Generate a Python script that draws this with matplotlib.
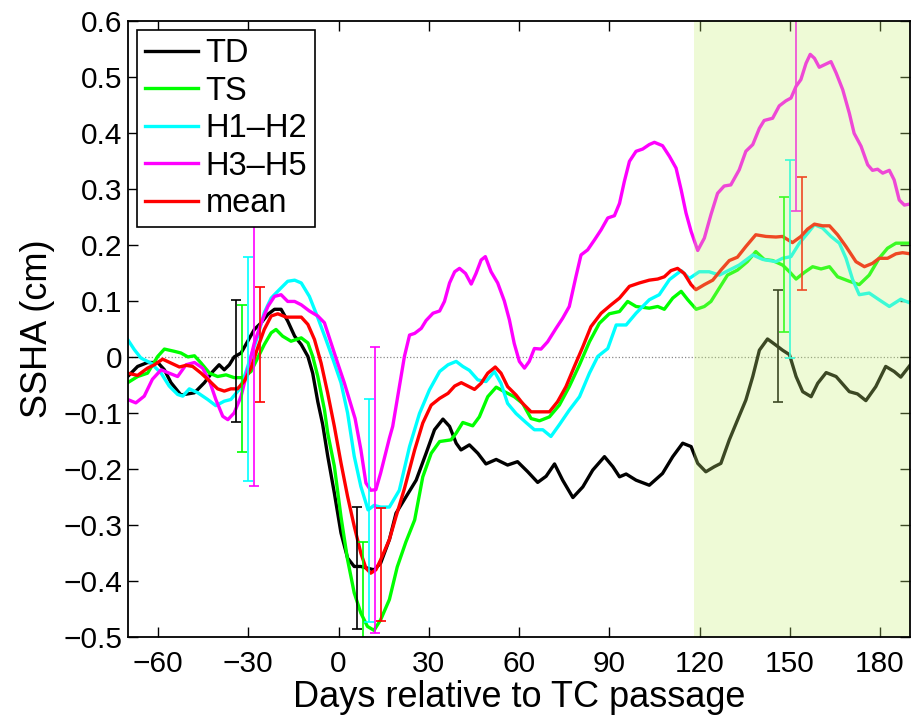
#!/usr/bin/env python3

import matplotlib
matplotlib.use("Agg")
import matplotlib.pyplot as plt

plt.rcParams['font.family'] = ['Liberation Sans', 'DejaVu Sans']

# composite SSHA curves (day, cm)
td_days = [-70.1, -66.8, -63.5, -60.1, -57.9, -55.7, -52.4, -47.9, -44.6, -41.8, -39.7, -38.0, -36.3, -34.7,
           -32.4, -30.2, -28.0, -25.7, -23.5, -21.3, -19.1, -16.9, -14.6, -12.4, -10.2, -8.6, -6.9, -5.3,
           -3.6, -1.4, 0.8, 3.0, 5.2, 7.4, 9.6, 11.8, 14.0, 16.9, 19.1, 22.5, 25.8, 29.1, 31.9, 34.7, 36.9,
           39.1, 40.7, 43.5, 46.3, 49.0, 52.4, 56.2, 59.5, 62.9, 66.2, 69.0, 71.8, 74.5, 77.9, 81.2, 84.5,
           88.4, 91.2, 93.4, 95.6, 98.9, 103.3, 107.7, 111.1, 114.4, 117.2, 119.4, 122.1, 124.9, 127.1,
           129.9, 132.6, 135.4, 137.7, 139.9, 142.6, 145.4, 147.6, 149.9, 152.1, 154.3, 157.1, 159.3,
           162.1, 165.4, 169.8, 172.5, 175.3, 178.6, 181.9, 184.7, 186.9, 190.1]
td_vals = [-0.035, -0.017, -0.010, -0.010, -0.023, -0.046, -0.068, -0.064, -0.046, -0.026, -0.014, -0.023,
           -0.014, 0.000, 0.007, 0.028, 0.049, 0.061, 0.076, 0.085, 0.085, 0.064, 0.037, 0.022, 0.001,
           -0.029, -0.080, -0.120, -0.177, -0.243, -0.314, -0.359, -0.374, -0.374, -0.377, -0.380, -0.368,
           -0.326, -0.279, -0.249, -0.220, -0.172, -0.130, -0.111, -0.124, -0.154, -0.166, -0.157, -0.172,
           -0.191, -0.183, -0.193, -0.187, -0.205, -0.224, -0.213, -0.191, -0.220, -0.251, -0.232, -0.202,
           -0.178, -0.196, -0.214, -0.209, -0.220, -0.229, -0.208, -0.178, -0.154, -0.160, -0.190, -0.205,
           -0.196, -0.190, -0.148, -0.113, -0.077, -0.035, 0.012, 0.032, 0.021, 0.012, 0.004, -0.035,
           -0.062, -0.071, -0.047, -0.028, -0.035, -0.062, -0.066, -0.078, -0.053, -0.017, -0.026, -0.036,
           -0.014]

ts_days = [-70.1, -66.8, -63.5, -60.1, -57.9, -54.6, -52.4, -50.1, -47.9, -45.7, -42.9, -40.2, -37.4, -34.7,
           -31.9, -29.1, -26.9, -24.7, -22.4, -20.8, -18.6, -15.8, -12.4, -10.2, -8.6, -6.9, -4.7, -3.6,
           -1.4, 0.8, 3.0, 5.2, 7.4, 9.6, 11.8, 14.0, 16.9, 19.5, 22.4, 25.3, 28.0, 30.8, 33.6, 37.4, 39.1,
           41.3, 44.6, 46.8, 49.6, 52.4, 55.1, 58.4, 61.2, 64.0, 66.8, 70.1, 73.4, 76.7, 80.1, 83.4, 86.7,
           90.0, 93.4, 96.1, 98.9, 103.3, 106.1, 108.3, 111.1, 113.9, 116.1, 118.9, 121.6, 123.8, 126.6,
           129.3, 132.6, 135.9, 138.7, 141.5, 144.3, 147.6, 149.9, 152.1, 154.9, 157.6, 160.4, 163.2,
           165.9, 169.8, 173.1, 176.4, 179.7, 182.5, 185.3, 190.1]
ts_vals = [-0.046, -0.035, -0.029, 0.001, 0.014, 0.010, 0.007, 0.000, 0.002, -0.011, -0.029, -0.035, -0.032,
           -0.037, -0.037, -0.026, -0.002, 0.022, 0.043, 0.049, 0.037, 0.028, 0.034, 0.025, 0.001, -0.035,
           -0.094, -0.136, -0.195, -0.285, -0.362, -0.421, -0.457, -0.481, -0.488, -0.469, -0.433, -0.375,
           -0.330, -0.291, -0.214, -0.172, -0.151, -0.148, -0.136, -0.117, -0.123, -0.107, -0.071, -0.054,
           -0.062, -0.071, -0.083, -0.110, -0.114, -0.107, -0.086, -0.053, -0.014, 0.027, 0.060, 0.077,
           0.081, 0.099, 0.090, 0.087, 0.090, 0.085, 0.105, 0.117, 0.102, 0.085, 0.090, 0.099, 0.123, 0.146,
           0.155, 0.170, 0.188, 0.174, 0.172, 0.164, 0.152, 0.139, 0.151, 0.161, 0.157, 0.161, 0.143, 0.135,
           0.129, 0.146, 0.176, 0.194, 0.203, 0.203]

h12_days = [-70.1, -67.9, -65.7, -62.4, -59.0, -56.3, -53.5, -51.8, -49.6, -46.8, -43.5, -40.8, -38.0, -35.8,
            -33.0, -31.3, -29.1, -26.9, -24.7, -22.4, -19.7, -16.9, -14.6, -12.4, -9.7, -6.9, -4.2, -2.0,
            0.8, 3.0, 5.2, 7.4, 9.8, 11.8, 14.0, 16.9, 20.2, 23.6, 26.9, 30.2, 33.6, 36.4, 39.1, 41.3, 43.5,
            46.3, 49.0, 51.8, 54.0, 56.2, 59.0, 62.3, 65.1, 67.9, 70.6, 73.4, 76.7, 80.1, 83.4, 86.2, 89.5,
            92.3, 95.6, 98.9, 103.3, 106.6, 110.0, 113.9, 116.6, 119.9, 123.2, 126.6, 129.9, 133.2, 137.7,
            141.0, 145.4, 147.6, 150.4, 153.2, 156.0, 158.2, 160.9, 163.7, 166.5, 168.7, 170.9, 173.1,
            176.4, 179.7, 183.1, 186.9, 190.1]
h12_vals = [0.031, 0.013, -0.002, -0.011, -0.029, -0.052, -0.067, -0.070, -0.057, -0.064, -0.076, -0.087,
            -0.079, -0.076, -0.058, -0.035, 0.001, 0.037, 0.079, 0.105, 0.120, 0.135, 0.137, 0.132, 0.108,
            0.070, 0.031, -0.002, -0.046, -0.100, -0.177, -0.231, -0.273, -0.265, -0.268, -0.268, -0.238,
            -0.160, -0.101, -0.059, -0.026, -0.014, -0.008, -0.017, -0.024, -0.041, -0.044, -0.026, -0.047,
            -0.083, -0.101, -0.117, -0.130, -0.130, -0.142, -0.121, -0.095, -0.071, -0.029, 0.001, 0.015,
            0.057, 0.057, 0.078, 0.102, 0.111, 0.138, 0.154, 0.140, 0.152, 0.152, 0.146, 0.155, 0.164,
            0.182, 0.174, 0.170, 0.176, 0.179, 0.203, 0.221, 0.236, 0.230, 0.215, 0.203, 0.176, 0.138,
            0.111, 0.114, 0.102, 0.090, 0.103, 0.096]

h35_days = [-70.1, -67.4, -64.6, -61.9, -59.0, -56.3, -53.5, -50.7, -47.9, -45.2, -42.9, -40.8, -38.5, -36.8,
            -34.7, -32.4, -30.2, -28.0, -25.7, -23.5, -21.3, -19.1, -16.9, -14.6, -12.4, -9.7, -6.9, -4.7,
            -2.5, -0.3, 1.9, 4.1, 5.5, 7.4, 9.1, 10.7, 12.4, 14.0, 16.9, 18.0, 20.2, 21.9, 23.6, 25.3, 27.5,
            29.1, 31.4, 33.6, 35.2, 36.9, 38.6, 40.2, 42.2, 44.1, 45.7, 47.4, 48.8, 50.7, 52.9, 55.1, 56.8,
            58.4, 60.1, 61.8, 63.4, 65.1, 67.3, 69.5, 72.3, 74.5, 76.7, 78.9, 80.6, 82.8, 85.1, 87.3, 89.5,
            91.7, 93.4, 95.0, 96.7, 98.9, 101.1, 103.3, 105.0, 107.7, 110.0, 112.2, 113.9, 115.5, 117.2,
            119.4, 121.6, 123.8, 126.0, 128.2, 130.4, 133.2, 135.4, 137.7, 139.9, 141.5, 144.3, 146.5,
            148.7, 150.4, 152.1, 153.7, 155.4, 156.8, 158.2, 159.8, 162.1, 163.7, 165.4, 167.6, 169.8,
            171.4, 173.7, 175.9, 177.5, 179.2, 180.9, 183.1, 184.7, 186.4, 188.1, 190.1]
h35_vals = [-0.076, -0.082, -0.070, -0.040, -0.023, -0.029, -0.035, -0.014, -0.010, -0.020, -0.043, -0.076,
            -0.106, -0.112, -0.100, -0.070, -0.023, 0.025, 0.061, 0.090, 0.108, 0.111, 0.099, 0.099, 0.093,
            0.082, 0.073, 0.061, 0.025, -0.011, -0.046, -0.085, -0.110, -0.165, -0.225, -0.238, -0.237,
            -0.207, -0.145, -0.124, -0.053, 0.001, 0.039, 0.042, 0.051, 0.065, 0.078, 0.082, 0.099, 0.132,
            0.152, 0.158, 0.149, 0.130, 0.149, 0.173, 0.179, 0.152, 0.132, 0.100, 0.066, 0.024, -0.008,
            -0.020, -0.008, 0.015, 0.014, 0.027, 0.051, 0.069, 0.090, 0.143, 0.182, 0.191, 0.209, 0.227,
            0.248, 0.252, 0.274, 0.313, 0.349, 0.367, 0.371, 0.379, 0.383, 0.377, 0.358, 0.337, 0.298,
            0.257, 0.224, 0.190, 0.212, 0.254, 0.292, 0.305, 0.307, 0.334, 0.367, 0.379, 0.408, 0.422,
            0.426, 0.448, 0.457, 0.462, 0.483, 0.495, 0.524, 0.540, 0.533, 0.517, 0.523, 0.527, 0.507,
            0.477, 0.435, 0.399, 0.376, 0.343, 0.333, 0.335, 0.328, 0.333, 0.316, 0.280, 0.271, 0.273]

mean_days = [-70.1, -66.8, -63.5, -61.2, -58.5, -55.7, -52.9, -50.7, -48.5, -45.7, -42.9, -40.2, -38.0, -35.8,
             -33.6, -31.3, -29.1, -26.9, -24.7, -22.4, -20.2, -17.4, -14.6, -12.4, -10.2, -8.0, -5.8, -3.6,
             -1.4, 0.8, 3.0, 5.2, 7.4, 9.1, 10.7, 12.4, 14.0, 16.9, 19.1, 21.9, 25.3, 28.0, 30.8, 33.6, 36.4,
             38.6, 40.8, 43.0, 45.2, 47.4, 49.6, 52.1, 54.0, 56.2, 59.0, 61.2, 64.0, 66.8, 70.1, 72.8, 75.6,
             78.4, 81.2, 83.9, 87.3, 90.6, 93.4, 96.7, 100.0, 103.3, 106.1, 108.3, 110.5, 112.7, 114.9,
             117.2, 118.8, 121.6, 124.4, 127.1, 129.9, 132.6, 135.4, 138.7, 142.1, 145.4, 147.6, 150.9,
             153.7, 155.9, 158.2, 160.9, 163.2, 165.9, 168.7, 172.0, 174.8, 177.5, 179.7, 182.5, 185.3,
             187.5, 190.1]
mean_vals = [-0.029, -0.033, -0.020, -0.014, -0.004, -0.011, -0.018, -0.015, -0.017, -0.029, -0.043, -0.057,
             -0.061, -0.057, -0.057, -0.043, -0.020, 0.016, 0.049, 0.073, 0.077, 0.071, 0.071, 0.071, 0.058,
             0.031, -0.011, -0.065, -0.124, -0.189, -0.249, -0.302, -0.350, -0.377, -0.386, -0.380, -0.362,
             -0.326, -0.285, -0.235, -0.166, -0.118, -0.086, -0.074, -0.065, -0.052, -0.046, -0.052, -0.058,
             -0.047, -0.029, -0.018, -0.029, -0.053, -0.068, -0.083, -0.098, -0.098, -0.098, -0.080, -0.053,
             -0.017, 0.018, 0.054, 0.078, 0.093, 0.105, 0.126, 0.132, 0.137, 0.139, 0.143, 0.154, 0.158,
             0.149, 0.129, 0.120, 0.129, 0.137, 0.155, 0.172, 0.178, 0.197, 0.218, 0.215, 0.214, 0.215,
             0.204, 0.215, 0.228, 0.237, 0.234, 0.234, 0.218, 0.197, 0.170, 0.161, 0.167, 0.176, 0.176,
             0.184, 0.186, 0.184]

# error bars: day, low, high
td_err = ([-34, 6, 146], [-0.117, -0.486, -0.080], [0.102, -0.267, 0.120])
ts_err = ([-32, 8, 148], [-0.169, -0.600, 0.045], [0.093, -0.331, 0.286])
h12_err = ([-30, 10, 150], [-0.221, -0.473, -0.002], [0.179, -0.075, 0.352])
h35_err = ([-28, 12, 152], [-0.230, -0.492, 0.261], [0.280, 0.018, 0.715])
mean_err = ([-26, 14, 154], [-0.080, -0.471, 0.120], [0.124, -0.269, 0.321])

labels = ["TD", "TS", "H1\u2013H2", "H3\u2013H5", "mean"]
colors = ["k", (0, 1, 0), (0, 1, 1), (1, 0, 1), (1, 0, 0)]
series = [(td_days, td_vals, td_err), (ts_days, ts_vals, ts_err), (h12_days, h12_vals, h12_err),
          (h35_days, h35_vals, h35_err), (mean_days, mean_vals, mean_err)]

shade_start = 118.3

fig = plt.figure(figsize=(9.11, 7.15), dpi=100)
ax = fig.add_axes([0.1405, 0.109, 0.8585, 0.862])

ax.axhline(0, color="#888888", lw=0.9, ls=":", zorder=1)

for (d, v, e), c, lab in zip(series, colors, labels):
    ax.plot(d, v, color=c, lw=2.4, label=lab, zorder=3)

for (d, v, e), c in zip(series, colors):
    xs, lo, hi = e
    mid = [(a + b) / 2 for a, b in zip(lo, hi)]
    half = [(b - a) / 2 for a, b in zip(lo, hi)]
    ax.errorbar(xs, mid, yerr=half, fmt="none", ecolor=c, elinewidth=1.2, capsize=3.5, capthick=1.2, zorder=4)

# the late period, drawn over the curves so they get tinted
ax.axvspan(shade_start, 190, color=(200/255, 240/255, 120/255), alpha=0.3, lw=0, zorder=6)

ax.set_xlim(-70, 190)
ax.set_ylim(-0.5, 0.6)
ax.set_xticks(range(-60, 181, 30))
ax.set_xticklabels([str(t).replace("-", "\u2212") for t in range(-60, 181, 30)])
yt = [-0.5, -0.4, -0.3, -0.2, -0.1, 0, 0.1, 0.2, 0.3, 0.4, 0.5, 0.6]
ax.set_yticks(yt)
ax.set_yticklabels([("%g" % t).replace("-", "\u2212") for t in yt])

ax.tick_params(direction="in", length=7, width=1, top=True, right=True, labelsize=21.5)
ax.tick_params(axis="x", pad=9)
ax.tick_params(axis="y", pad=4)
for s in ax.spines.values():
    s.set_linewidth(1.3)
    s.set_zorder(8)

ax.set_xlabel("Days relative to TC passage", fontsize=26, labelpad=2)
ax.set_ylabel("SSHA (cm)", fontsize=26, labelpad=6)

leg = ax.legend(loc="upper left", fontsize=23.5, fancybox=False, framealpha=1, edgecolor="k",
                borderpad=0.25, labelspacing=0.2, handlelength=1.6, handletextpad=0.25,
                borderaxespad=0.28)
leg.get_frame().set_linewidth(1.2)
leg.set_zorder(10)

plt.savefig("out.png", dpi=100)
